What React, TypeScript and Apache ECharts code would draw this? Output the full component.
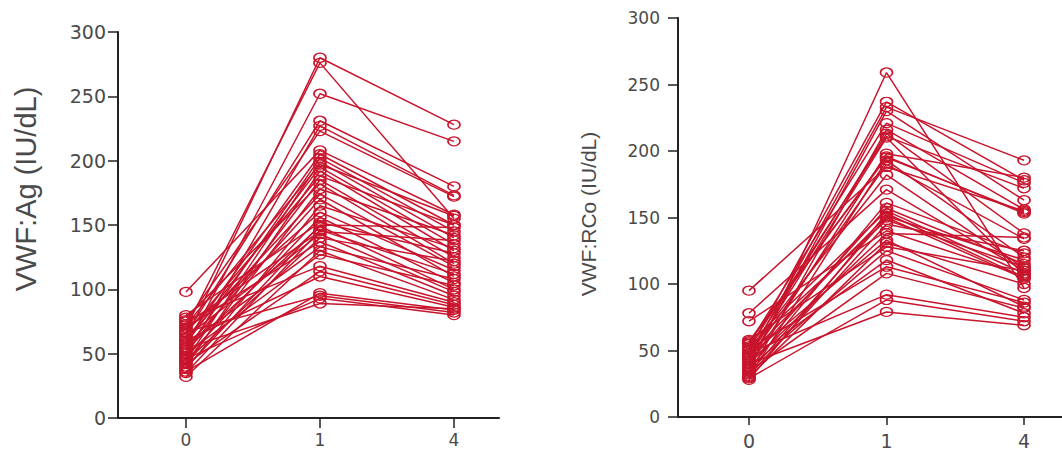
import React, { useEffect, useRef } from "react";
import * as echarts from "echarts";

// Time points (x categories)
const timeLabels = ["0", "1", "4"];
const yTicks = [0, 50, 100, 150, 200, 250, 300];

// VWF:Ag (IU/dL) per patient at time 0, 1, 4
const agT0 = [62, 70, 55, 65, 48, 75, 98, 60, 52, 45, 72, 58, 40, 66, 50, 78, 43, 62, 55, 38, 68, 47, 80, 53, 35, 63, 44, 70, 57, 32, 50, 76, 42, 60, 36, 67, 46, 54, 73, 39];
const agT1 = [280, 276, 252, 231, 227, 223, 208, 205, 202, 199, 197, 195, 192, 188, 185, 182, 178, 174, 170, 165, 160, 156, 152, 149, 146, 143, 140, 137, 133, 130, 127, 118, 114, 110, 97, 95, 93, 89, 145, 150];
const agT4 = [228, 155, 215, 180, 173, 172, 158, 150, 145, 140, 157, 135, 130, 150, 125, 120, 142, 118, 110, 132, 115, 105, 128, 100, 112, 98, 122, 95, 108, 92, 103, 90, 88, 86, 84, 82, 80, 85, 138, 148];

// VWF:RCo (IU/dL) per patient at time 0, 1, 4
const rcoT0 = [35, 50, 45, 40, 55, 32, 48, 52, 38, 57, 30, 44, 95, 50, 78, 36, 42, 55, 28, 47, 33, 53, 72, 40, 46, 30, 58, 37, 43, 51, 34, 48, 29, 40, 56, 31, 45];
const rcoT1 = [259, 237, 233, 230, 221, 216, 213, 211, 198, 195, 193, 190, 188, 182, 171, 161, 157, 155, 153, 151, 150, 148, 140, 138, 133, 131, 128, 125, 118, 113, 108, 92, 88, 79, 196, 145, 210];
const rcoT4 = [97, 178, 193, 163, 176, 156, 138, 172, 180, 154, 120, 134, 155, 112, 110, 123, 115, 108, 105, 118, 104, 113, 106, 135, 83, 100, 110, 88, 78, 86, 82, 75, 72, 69, 153, 125, 107];

const RED = "#c8142c";
const AXIS = "#222";
const LABEL = "#4a4a4a";

function buildSeries(t0: number[], t1: number[], t4: number[], idx: number) {
  return t0.map((v, i) => ({
    type: "line" as const,
    xAxisIndex: idx,
    yAxisIndex: idx,
    data: [
      [0, v],
      [1, t1[i]],
      [2, t4[i]],
    ],
    symbol: "circle",
    symbolSize: [12, 9],
    lineStyle: { color: RED, width: 1.5 },
    itemStyle: { color: "rgba(255,255,255,0)", borderColor: RED, borderWidth: 1.4 },
    emphasis: { disabled: true },
    silent: true,
  }));
}

function yAxis(idx: number, fontSize: number, margin: number) {
  return {
    type: "value" as const,
    gridIndex: idx,
    min: 0,
    max: 300,
    interval: 50,
    splitLine: { show: false },
    axisLine: { show: true, onZero: false, lineStyle: { color: AXIS, width: 2 } },
    axisTick: { show: true, inside: false, length: 10, lineStyle: { color: AXIS, width: 1.5 } },
    axisLabel: {
      margin,
      color: LABEL,
      fontSize,
      fontFamily: "DejaVu Sans",
      formatter: (v: number) => (yTicks.includes(v) ? String(v) : ""),
    },
  };
}

function xAxis(idx: number, min: number, max: number, fontSize: number, margin: number, tickLen: number) {
  return {
    type: "value" as const,
    gridIndex: idx,
    min,
    max,
    splitLine: { show: false },
    axisLine: { show: true, onZero: false, lineStyle: { color: AXIS, width: 2 } },
    axisTick: { show: true, length: tickLen, customValues: [0, 1, 2], lineStyle: { color: AXIS, width: 1.5 } },
    axisLabel: {
      customValues: [0, 1, 2],
      margin,
      color: LABEL,
      fontSize,
      fontFamily: "DejaVu Sans",
      formatter: (v: number) => timeLabels[Math.round(v)] ?? "",
    },
  };
}

export default function App() {
  const ref = useRef<HTMLDivElement>(null);
  useEffect(() => {
    if (!ref.current) return;
    const chart = echarts.init(ref.current, undefined, { renderer: "svg" });
    chart.setOption({
      animation: false,
      backgroundColor: "#fff",
      grid: [
        { left: 118, top: 32, width: 381, height: 386, outerBoundsMode: "none", containLabel: false },
        { left: 678, top: 18, width: 384, height: 399, outerBoundsMode: "none", containLabel: false },
      ],
      xAxis: [
        xAxis(0, -0.507, 2.336, 17, 13, 10),
        xAxis(1, -0.516, 2.276, 19, 14, 8),
      ],
      yAxis: [yAxis(0, 19, 12), yAxis(1, 17, 18)],
      graphic: [
        {
          type: "text",
          x: 26,
          y: 189,
          rotation: Math.PI / 2,
          style: {
            text: "VWF:Ag (IU/dL)",
            font: "29px 'Liberation Sans'",
            fill: LABEL,
            align: "center",
            verticalAlign: "middle",
          },
        },
        {
          type: "text",
          x: 588,
          y: 214,
          rotation: Math.PI / 2,
          style: {
            text: "VWF:RCo (IU/dL)",
            font: "21px 'Liberation Sans'",
            fill: LABEL,
            align: "center",
            verticalAlign: "middle",
          },
        },
      ],
      series: [...buildSeries(agT0, agT1, agT4, 0), ...buildSeries(rcoT0, rcoT1, rcoT4, 1)],
    });
    return () => chart.dispose();
  }, []);
  return <div ref={ref} style={{ position: "fixed", left: 0, top: 0, width: 1062, height: 451 }} />;
}
